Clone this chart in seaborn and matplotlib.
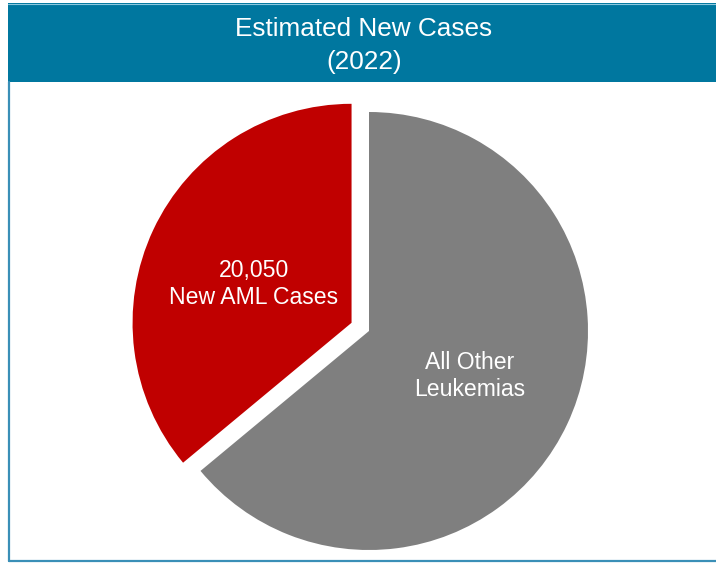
import matplotlib
matplotlib.use("Agg")
import matplotlib.pyplot as plt
from matplotlib.patches import Rectangle
from matplotlib.lines import Line2D
import seaborn as sns

# Estimated new cases (2022)
categories = ["New AML Cases", "All Other Leukemias"]
values = [20050, 35600]
labels = ["20,050\nNew AML Cases", "All Other\nLeukemias"]
title_lines = ["Estimated New Cases", "(2022)"]

sns.set_theme(style="white")
plt.rcParams["font.family"] = ["Liberation Sans", "DejaVu Sans"]

W, H = 716, 563
fig = plt.figure(figsize=(W / 100, H / 100), dpi=100)
fig.patch.set_facecolor("white")

# pixel helpers for figure-level decorations
def fx(px):
    return px / W

def fy(py):
    return 1 - py / H

# pie axes: centre at (369, 331) px, radius 219 px
cx, cy, r = 369, 331, 219
ax = fig.add_axes([0, 0, 1, 1])
colors = ["#C00000", "#7F7F7F"]
wedges, texts = ax.pie(
    values,
    colors=colors,
    startangle=90,
    counterclock=True,
    explode=[0.088, 0.0],
    labels=labels,
    labeldistance=0.5,
    radius=1.0,
    textprops=dict(color="white", fontsize=16.6, ha="center", va="center",
                   linespacing=1.2),
    wedgeprops=dict(linewidth=0),
)
ax.set_xlim(-cx / r, (W - cx) / r)
ax.set_ylim(-(H - cy) / r, cy / r)
ax.set_aspect("auto")
ax.axis("off")

# fine placement of slice labels
texts[0].set_position(((254 - cx) / r, (cy - 284) / r))
texts[1].set_position(((470 - cx) / r, (cy - 376) / r))

# title banner
banner_color = "#00779F"
fig.add_artist(Rectangle((fx(8), fy(82)), fx(W + 10) - fx(8), fy(3) - fy(82),
                         transform=fig.transFigure, facecolor=banner_color,
                         edgecolor="none", zorder=5))
fig.add_artist(Line2D([fx(8), fx(W + 5)], [fy(3.5), fy(3.5)],
                      transform=fig.transFigure, color="#8CC8DE", lw=0.8, zorder=6))
fig.text(fx(364), fy(29), title_lines[0], color="white", fontsize=18.8,
         ha="center", va="center", zorder=7)
fig.text(fx(364), fy(62), title_lines[1], color="white", fontsize=18.8,
         ha="center", va="center", zorder=7)

# panel border (left and bottom edges visible)
border_color = "#3A8FB7"
fig.add_artist(Line2D([fx(9), fx(9)], [fy(82), fy(561)],
                      transform=fig.transFigure, color=border_color, lw=1.6, zorder=6))
fig.add_artist(Line2D([fx(9), fx(W + 5)], [fy(561), fy(561)],
                      transform=fig.transFigure, color=border_color, lw=1.6, zorder=6))

fig.savefig("out.png", dpi=100, facecolor="white")
